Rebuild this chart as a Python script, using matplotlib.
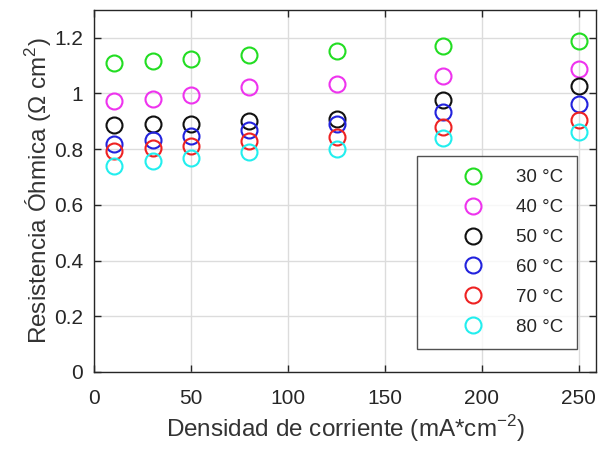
import numpy as np
import matplotlib
matplotlib.use("Agg")
import matplotlib.pyplot as plt

plt.rcParams['font.family'] = ['Liberation Sans', 'DejaVu Sans']
plt.rcParams['mathtext.fontset'] = 'custom'
plt.rcParams['mathtext.rm'] = 'Liberation Sans'

# current density (mA/cm2)
density = [10, 30, 50, 80, 125, 180, 250]

# ohmic resistance per temperature
r_30 = [1.109, 1.117, 1.123, 1.139, 1.153, 1.172, 1.187]
r_40 = [0.974, 0.980, 0.993, 1.022, 1.035, 1.062, 1.089]
r_50 = [0.886, 0.891, 0.892, 0.902, 0.910, 0.977, 1.028]
r_60 = [0.820, 0.833, 0.847, 0.868, 0.890, 0.932, 0.963]
r_70 = [0.792, 0.803, 0.810, 0.831, 0.843, 0.879, 0.905]
r_80 = [0.738, 0.758, 0.768, 0.788, 0.800, 0.840, 0.863]

labels = ['30 °C', '40 °C', '50 °C', '60 °C', '70 °C', '80 °C']
colors = ['#22dd22', '#ee33ee', '#111111', '#2222dd', '#ee2222', '#22eeee']
series = [r_30, r_40, r_50, r_60, r_70, r_80]

fig = plt.figure(figsize=(5.98, 4.49), dpi=100)
ax = fig.add_axes([0.158, 0.1715, 0.839, 0.8065])

for y, c, lab in zip(series, colors, labels):
    ax.plot(density, y, 'o', mfc='none', mec=c, mew=1.5, ms=11.5, label=lab)

ax.set_xlim(0, 259)
ax.set_ylim(0, 1.3)
ax.set_xticks([0, 50, 100, 150, 200, 250])
ax.set_yticks([0, 0.2, 0.4, 0.6, 0.8, 1.0, 1.2])
ax.set_yticklabels(['0', '0.2', '0.4', '0.6', '0.8', '1', '1.2'])
ax.grid(True, color='#dcdcdc', linewidth=1.0)
ax.set_axisbelow(True)
ax.tick_params(direction='in', top=True, right=True, length=5,
               labelsize=15, colors='#262626', width=1.0)
ax.tick_params(axis='x', pad=12)
ax.tick_params(axis='y', pad=8)
for s in ax.spines.values():
    s.set_color('#262626')
    s.set_linewidth(1.0)

ax.set_xlabel('Densidad de corriente (mA*cm$^{-2}$)', fontsize=17.5,
              color='#333333', labelpad=4)
ax.set_ylabel('Resistencia Óhmica (Ω cm$^2$)', fontsize=17.5,
              color='#333333', labelpad=0)

leg = ax.legend(loc='upper left', bbox_to_anchor=(0.643, 0.597), fontsize=13.5,
                frameon=True, fancybox=False, edgecolor='#262626',
                borderaxespad=0, labelspacing=0.68, handletextpad=0.0,
                borderpad=0.72, handlelength=4.55, markerfirst=True)
leg.get_frame().set_linewidth(1.0)
for t in leg.get_texts():
    t.set_color('#262626')

fig.savefig('out.png', dpi=100)
